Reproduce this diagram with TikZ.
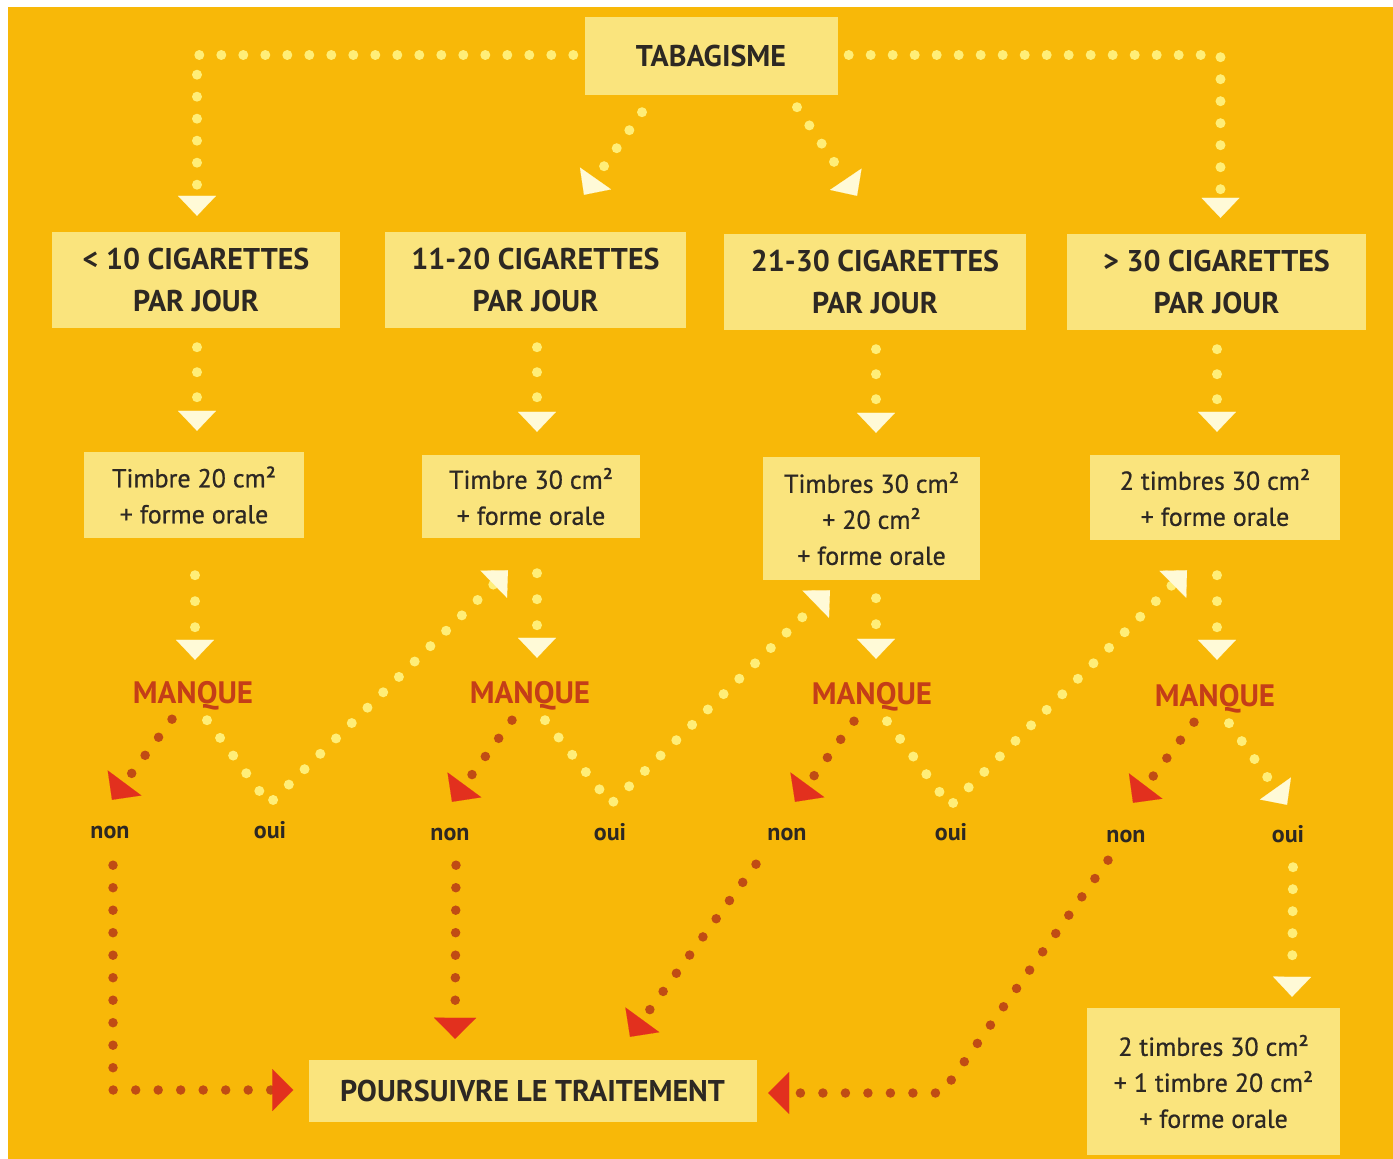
\documentclass[tikz,border=0pt]{standalone}
\usepackage{fontspec}
\setmainfont{PT Sans}
\newfontfamily\medfont{PT Sans}[FakeBold=0.7]
\usetikzlibrary{arrows.meta,calc}
\definecolor{bg}{RGB}{248,184,8}
\definecolor{boxc}{RGB}{250,228,125}
\definecolor{txt}{RGB}{45,40,35}
\definecolor{manqc}{RGB}{196,62,24}
\definecolor{ydotc}{RGB}{255,238,120}
\definecolor{ytipc}{RGB}{255,250,215}
\definecolor{rdotc}{RGB}{192,76,20}
\definecolor{rtipc}{RGB}{226,48,30}
\tikzset{
  box/.style={fill=boxc, text=txt, inner sep=0pt, align=center},
  head/.style={box, font=\fontsize{30}{42}\selectfont\bfseries},
  tim/.style={box, font=\medfont\fontsize{26}{36}\selectfont},
  manq/.style={text=manqc, inner sep=0pt, text height=22pt, text depth=0pt, font=\fontsize{31}{31}\selectfont\bfseries},
  lab/.style={text=txt, inner sep=0pt, text height=12pt, text depth=0pt, font=\fontsize{24}{24}\selectfont\bfseries},
  ydot/.style={draw=ydotc, line width=10pt, line cap=round, dash pattern=on 0pt off 22pt},
  rdot/.style={draw=rdotc, line width=9.5pt, line cap=round, dash pattern=on 0pt off 22.5pt},
  yarr/.style={ydot, -{Triangle[length=20pt,width=38pt,color=ytipc,line width=0.1pt]}},
  rarr/.style={rdot, -{Triangle[length=21pt,width=42pt,color=rtipc,line width=0.1pt]}},
}
\begin{document}
\begin{tikzpicture}[x=1pt,y=-1pt]
\fill[white] (0,0) rectangle (1393,1159);
\fill[bg] (8,7) rectangle (1393,1159);
\useasboundingbox (0,0) rectangle (1393,1159);

% boxes
\node[head, minimum width=253pt, minimum height=78pt] (tab) at (711,56) {TABAGISME};
\node[head, minimum width=288pt, minimum height=96pt] (b1) at (196,280) {< 10 CIGARETTES\\PAR JOUR};
\node[head, minimum width=301pt, minimum height=96pt] (b2) at (535.5,280) {11-20 CIGARETTES\\PAR JOUR};
\node[head, minimum width=302pt, minimum height=96pt] (b3) at (875,282) {21-30 CIGARETTES\\PAR JOUR};
\node[head, minimum width=299pt, minimum height=96pt] (b4) at (1216.5,282) {> 30 CIGARETTES\\PAR JOUR};

\node[tim, minimum width=220pt, minimum height=86pt] (t1) at (194,495) {Timbre 20 cm²\\+ forme orale};
\node[tim, minimum width=218pt, minimum height=83pt] (t2) at (531,496.5) {Timbre 30 cm²\\+ forme orale};
\node[tim, minimum width=217pt, minimum height=123pt] (t3) at (871.5,518.5) {Timbres 30 cm²\\+ 20 cm²\\+ forme orale};
\node[tim, minimum width=250pt, minimum height=85pt] (t4) at (1215,497.5) {2 timbres 30 cm²\\+ forme orale};
\node[tim, minimum width=253pt, minimum height=147pt] (fin) at (1213.5,1081.5) {2 timbres 30 cm²\\+ 1 timbre 20 cm²\\+ forme orale};
\node[head, minimum width=448pt, minimum height=62pt] (pt) at (532.5,1091) {POURSUIVRE LE TRAITEMENT};

\node[manq] (m1) at (193,692) {MANQUE};
\node[manq] (m2) at (530,692) {MANQUE};
\node[manq] (m3) at (872,693) {MANQUE};
\node[manq] (m4) at (1215,695) {MANQUE};

\node[lab] (n1) at (110,832) {non};
\node[lab] (o1) at (270,832) {oui};
\node[lab] (n2) at (450,834) {non};
\node[lab] (o2) at (610,834) {oui};
\node[lab] (n3) at (787,834) {non};
\node[lab] (o3) at (951,834) {oui};
\node[lab] (n4) at (1126,836) {non};
\node[lab] (o4) at (1288,836) {oui};

\coordinate (v1) at (269,804);
\coordinate (v2) at (611,804);
\coordinate (v3) at (950,806);
\coordinate (c4) at (942,1093);

% tabagisme -> categories
\draw[yarr] ($(tab.west)+(-11,-1)$) -| ($(b1.north)+(1,-16)$);
\draw[yarr] ($(tab.east)+(11,-1)$) -| ($(b4.north)+(4,-16)$);
\draw[yarr] ($(tab.south)+(-69,17)$) -- ($(b2.north)+(48.5,-37)$);
\draw[yarr] ($(tab.south)+(86,12)$) -- ($(b3.north)+(-18,-38)$);

% categories -> timbres
\draw[yarr, dash pattern=on 0pt off 25pt] ($(b1.south)+(1,19)$) -- ($(t1.north)+(3,-21)$);
\draw[yarr, dash pattern=on 0pt off 25pt] ($(b2.south)+(1.5,19)$) -- ($(t2.north)+(6,-23)$);
\draw[yarr, dash pattern=on 0pt off 25pt] ($(b3.south)+(1,19)$) -- ($(t3.north)+(4.5,-24)$);
\draw[yarr, dash pattern=on 0pt off 25pt] ($(b4.south)+(0.5,19)$) -- ($(t4.north)+(2,-23)$);

% timbres -> manque
\draw[yarr, dash pattern=on 0pt off 26pt] ($(t1.south)+(1,37)$) -- ($(m1.north)+(2,-21)$);
\draw[yarr, dash pattern=on 0pt off 26pt] ($(t2.south)+(6,35)$) -- ($(m2.north)+(7,-23)$);
\draw[yarr, dash pattern=on 0pt off 26pt] ($(t3.south)+(4.5,18)$) -- ($(m3.north)+(4,-23)$);
\draw[yarr, dash pattern=on 0pt off 26pt] ($(t4.south)+(2,35)$) -- ($(m4.north)+(2,-24)$);

% manque -> non
\draw[rarr] ($(m1.south)+(-21,16)$) -- ($(n1.north)+(2,-26)$);
\draw[rarr] ($(m2.south)+(-18,17)$) -- ($(n2.north)+(2,-26)$);
\draw[rarr] ($(m3.south)+(-18,17)$) -- ($(n3.north)+(8,-26)$);
\draw[rarr] ($(m4.south)+(-21,16)$) -- ($(n4.north)+(7,-27)$);

% manque -> oui -> next treatment
\draw[yarr] ($(m1.south)+(14,17)$) -- (v1) -- ($(t2.south)+(-23,32)$);
\draw[yarr] ($(m2.south)+(15,17)$) -- (v2) -- ($(t3.south)+(-41.5,10)$);
\draw[yarr] ($(m3.south)+(15,17)$) -- (v3) -- ($(t4.south)+(-28,30)$);
\draw[yarr] ($(m4.south)+(14,17)$) -- ($(o4.north)+(-1,-25)$);
\draw[yarr] ($(o4.south)+(5,25)$) -- ($(fin.north)+(78.5,-11)$);

% non -> poursuivre
\draw[rarr] ($(n1.south)+(3,27)$) |- ($(pt.west)+(-15,-1)$);
\draw[rarr] ($(n2.south)+(6,25)$) -- ($(pt.north)+(-77.5,-21)$);
\draw[rarr] ($(n3.south)+(-31,24)$) -- ($(pt.north)+(97.5,-23)$);
\draw[rarr] ($(n4.south)+(-18,18)$) -- (c4) -- ($(pt.east)+(11.5,2)$);
\end{tikzpicture}
\end{document}
